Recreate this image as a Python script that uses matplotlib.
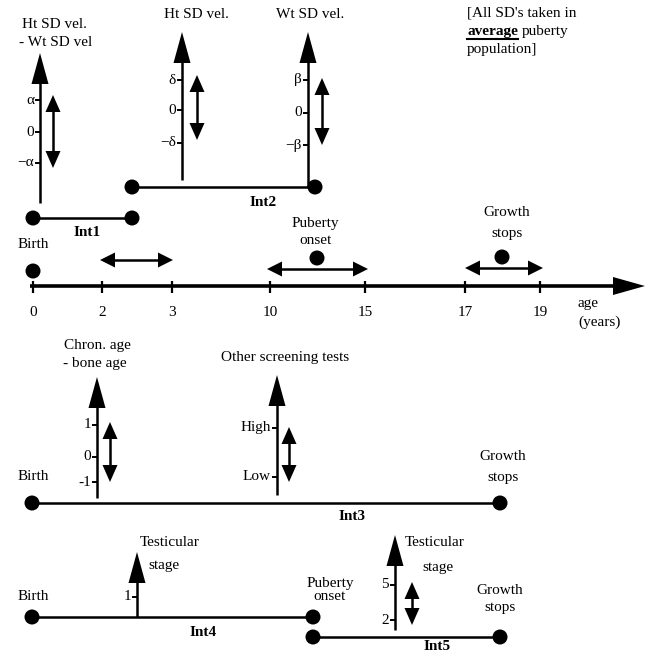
import matplotlib
matplotlib.use("Agg")
import matplotlib.pyplot as plt
from matplotlib.patches import Polygon, Circle

# ---------------- data ----------------
age_ticks = [0, 2, 3, 10, 15, 17, 19]
age_tick_labels = ["0", "2", "3", "10", "15", "17", "19"]
axis1_ticks = ["α", "0", "−α"]
axis2_ticks = ["δ", "0", "−δ"]
axis3_ticks = ["β", "0", "−β"]
chron_ticks = ["1", "0", "-1"]
screen_ticks = ["High", "Low"]
test1_ticks = ["1"]
test2_ticks = ["5", "2"]
interval_names = ["Int1", "Int2", "Int3", "Int4", "Int5"]

# ---------------- layout (pixel space) ----------------
W, H = 645, 654
age_x = [33, 102, 172, 270, 365, 465, 540]

fig = plt.figure(figsize=(W / 100, H / 100), dpi=100)
ax = fig.add_axes([0, 0, 1, 1])
ax.set_xlim(0, W)
ax.set_ylim(H, 0)
ax.axis("off")

FONT = ["Liberation Serif", "DejaVu Serif"]
FS = 11
LW = 1.8


def txt(x, y, s, ha="center", bold=False, fs=FS, **kw):
    return ax.text(x, y, s, ha=ha, va="center", fontsize=fs, family=FONT,
                   fontweight="bold" if bold else "normal", color="black", **kw)


def head(tipx, tipy, dx, dy, length, half):
    bx, by = tipx - dx * length, tipy - dy * length
    px, py = -dy, dx
    ax.add_patch(Polygon([(tipx, tipy), (bx + px * half, by + py * half),
                          (bx - px * half, by - py * half)],
                         closed=True, color="black", lw=0))


def dot(x, y, r=7.5):
    ax.add_patch(Circle((x, y), r, color="black", lw=0, zorder=3))


def hline(x0, x1, y, lw=LW):
    ax.plot([x0, x1], [y, y], color="black", lw=lw, solid_capstyle="butt")


def vline(x, y0, y1, lw=LW):
    ax.plot([x, x], [y0, y1], color="black", lw=lw, solid_capstyle="butt")


def hdouble(x0, x1, y):
    hline(x0 + 8, x1 - 8, y)
    head(x0, y, -1, 0, 15, 7.5)
    head(x1, y, 1, 0, 15, 7.5)


def vdouble(x, y0, y1):
    vline(x, y0 + 8, y1 - 8)
    head(x, y0, 0, -1, 17, 7.5)
    head(x, y1, 0, 1, 17, 7.5)


def vaxis(x, ybot, ytip, ticks, labels, headlen=31, half=8.5):
    vline(x, ybot, ytip + headlen - 2)
    head(x, ytip, 0, -1, headlen, half)
    for ty, lab in zip(ticks, labels):
        hline(x - 5, x, ty, lw=1.4)
        txt(x - 6, ty, lab, ha="right")


def interval(x0, x1, y, name, lx, ly):
    hline(x0, x1, y)
    dot(x0, y)
    dot(x1, y)
    txt(lx, ly, name, bold=True)


# ---------------- main age axis ----------------
hline(30, 614, 286, lw=2.6)
head(645, 286, 1, 0, 32, 9)
for x, lab in zip(age_x, age_tick_labels):
    vline(x, 281, 293, lw=1.6)
    txt(x, 312, lab)
txt(578, 303, "age", ha="left")
txt(578, 322, "(years)", ha="left")

dot(33, 271)
txt(33, 245, "Birth")
hdouble(100, 173, 260)
hdouble(267, 368, 269)
dot(317, 258)
txt(315, 223, "Puberty")
txt(315, 240, "onset")
hdouble(465, 543, 268)
dot(502, 257)
txt(507, 213, "Growth")
txt(507, 233, "stops")

# ---------------- top section ----------------
interval(33, 132, 218, interval_names[0], 87, 233)
vaxis(40, 203, 53, [100, 132, 163], axis1_ticks)
vdouble(53, 95, 168)
txt(54, 25, "Ht SD vel.")
txt(56, 43, "- Wt SD vel")

interval(132, 315, 187, interval_names[1], 263, 202)
vaxis(182, 180, 32, [80, 110, 143], axis2_ticks)
vdouble(197, 75, 140)
txt(196, 15, "Ht SD vel.")

vaxis(308, 187, 32, [80, 113, 145], axis3_ticks)
vdouble(322, 78, 145)
txt(310, 15, "Wt SD vel.")

txt(467, 13, "[All SD's taken in", ha="left")
t = txt(467, 32, "average", ha="left", bold=True)
fig.canvas.draw()
bb = t.get_window_extent(renderer=fig.canvas.get_renderer())
inv = ax.transData.inverted()
(bx0, by0), (bx1, by1) = inv.transform([(bb.x0, bb.y0), (bb.x1, bb.y1)])
ax.plot([bx0, bx1], [39, 39], color="black", lw=1.5)
txt(bx1 + 4, 32, "puberty", ha="left")
txt(467, 50, "population]", ha="left")

# ---------------- section 3 ----------------
interval(32, 500, 503, interval_names[2], 352, 517)
vaxis(97, 498, 377, [425, 457, 482], chron_ticks)
vdouble(110, 422, 482)
txt(97, 345, "Chron. age")
txt(95, 363, "- bone age")
vaxis(277, 495, 375, [428, 477], screen_ticks)
vdouble(289, 427, 482)
txt(285, 358, "Other screening tests")
txt(33, 477, "Birth")
txt(503, 457, "Growth")
txt(503, 478, "stops")

# ---------------- section 4 ----------------
interval(32, 313, 617, interval_names[3], 203, 633)
vaxis(137, 617, 552, [597], test1_ticks)
txt(140, 543, "Testicular", ha="left")
txt(148, 565, "stage", ha="left")
txt(33, 597, "Birth")
txt(330, 583, "Puberty")
txt(330, 596, "onset")

interval(313, 500, 637, interval_names[4], 437, 647, )
vaxis(395, 630, 535, [585, 620], test2_ticks)
vdouble(412, 582, 625)
txt(405, 542, "Testicular", ha="left")
txt(422, 567, "stage", ha="left")
txt(500, 590, "Growth")
txt(500, 607, "stops")

fig.savefig("out.png", dpi=100, facecolor="white")
